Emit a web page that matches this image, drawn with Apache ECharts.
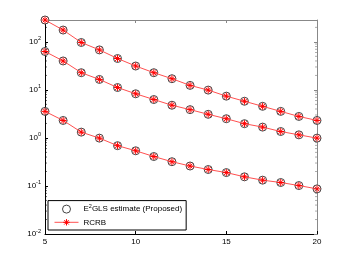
<!DOCTYPE html>
<html><head><meta charset="utf-8">
<script src="https://cdn.jsdelivr.net/npm/echarts@6/dist/echarts.min.js"></script>
<style>html,body{margin:0;padding:0;background:#fff}#c{width:350px;height:264px}</style>
</head><body><div id="c"></div>
<script>
const xValues = [5,6,7,8,9,10,11,12,13,14,15,16,17,18,19,20];
const seriesHigh = [285,176,97,68,45,31.4,22.8,17.1,12.4,9.9,7.4,5.8,4.55,3.57,2.8,2.31];
const seriesMid  = [63,40,22.8,16.5,11.2,8.3,6.3,4.79,3.88,3.1,2.51,1.98,1.68,1.36,1.16,0.99];
const seriesLow  = [3.57,2.31,1.32,0.99,0.69,0.54,0.41,0.32,0.26,0.22,0.19,0.155,0.132,0.118,0.102,0.087];
const xTicks = [5,10,15,20];
const yMin = 0.01, yMax = 285;
const nameEst = 'E2GLS estimate (Proposed)';
const nameCrb = 'RCRB';

const minorVals = [];
for (let e = -2; e <= 2; e++) for (let k = 2; k <= 9; k++) { const v = k * Math.pow(10, e); if (v < yMax) minorVals.push(v); }

const star = 'path://M0,-10L0,10M-10,0L10,0M-7,-7L7,7M-7,7L7,-7';
const font = 'Liberation Sans';

function pairs(arr){ return xValues.map((x,i)=>[x,arr[i]]); }

const series = [];
[seriesHigh, seriesMid, seriesLow].forEach(arr => {
  series.push({
    name: nameEst, type: 'scatter', data: pairs(arr), symbol: 'circle', symbolSize: 8,
    itemStyle: {color: '#fff', borderColor: '#444', borderWidth: 1, opacity: 1}, z: 2, silent: true
  });
  series.push({
    name: nameCrb, type: 'line', data: pairs(arr), symbol: star, symbolSize: 7,
    showSymbol: true, showAllSymbol: true,
    lineStyle: {color: '#ff5050', width: 1},
    itemStyle: {color: 'none', borderColor: '#ff0000', borderWidth: 1}, z: 3, silent: true
  });
});
series.push({
  type: 'custom', silent: true, z: 4,
  data: minorVals.map(v => [5, v]),
  renderItem: function(params, api){
    const cs = params.coordSys;
    const y = api.coord([5, api.value(1)])[1];
    return {type: 'group', children: [
      {type: 'line', shape: {x1: cs.x, y1: y, x2: cs.x + 2, y2: y}, style: {stroke: '#000', lineWidth: 0.6}},
      {type: 'line', shape: {x1: cs.x + cs.width - 2, y1: y, x2: cs.x + cs.width, y2: y}, style: {stroke: '#777', lineWidth: 0.6}}
    ]};
  }
});

const chart = echarts.init(document.getElementById('c'), null, {renderer: 'canvas'});
chart.setOption({
  animation: false,
  backgroundColor: '#fff',
  textStyle: {fontFamily: font},
  grid: {left: 45, right: 33, top: 20, bottom: 30},
  legend: {
    orient: 'vertical', left: 48, bottom: 34,
    data: [
      {name: nameEst, icon: 'circle', itemStyle: {color: '#fff', borderColor: '#444', borderWidth: 1}},
      {name: nameCrb, itemStyle: {color: 'none', borderColor: '#ff0000', borderWidth: 1}, lineStyle: {color: '#ff5050', width: 1}}
    ],
    itemWidth: 24, itemHeight: 8, itemGap: 3, padding: [3, 4, 2, 6],
    backgroundColor: '#fff', borderColor: '#000', borderWidth: 1, borderRadius: 0,
    formatter: function(n){ return n === nameEst ? '{a|E}{s|2}{a|GLS estimate (Proposed)}' : '{a|RCRB}'; },
    textStyle: {fontFamily: font, fontSize: 8, color: '#000',
      rich: {a: {fontFamily: font, fontSize: 8, color: '#000'}, s: {fontFamily: font, fontSize: 5.5, color: '#000', verticalAlign: 'top', padding: [0,0,5,0]}}}
  },
  xAxis: [{
    type: 'value', min: 5, max: 20, interval: 5,
    axisLine: {lineStyle: {color: '#000', width: 1}},
    axisTick: {inside: true, length: 3, lineStyle: {color: '#000'}},
    axisLabel: {fontFamily: font, fontSize: 8, color: '#000', margin: 4, formatter: v => xTicks.includes(v) ? String(v) : ''},
    splitLine: {show: false}
  }, {
    type: 'value', min: 5, max: 20, interval: 5, position: 'top',
    axisLine: {show: true, lineStyle: {color: '#888', width: 1}},
    axisTick: {inside: true, length: 3, lineStyle: {color: '#888'}},
    axisLabel: {show: false}, splitLine: {show: false}
  }],
  yAxis: [{
    type: 'log', logBase: 10, min: yMin, max: yMax,
    axisLine: {show: true, lineStyle: {color: '#000', width: 1}},
    axisTick: {show: true, inside: true, length: 3, lineStyle: {color: '#000'}},
    axisLabel: {showMaxLabel: false, fontFamily: font, fontSize: 8, color: '#000', margin: 4,
      formatter: function(v){ const e = Math.round(Math.log10(v)); if (Math.abs(Math.log10(v) - e) > 1e-6) return ''; return '{b|10}{e|' + e + '}'; },
      rich: {b: {fontFamily: font, fontSize: 8, color: '#000'}, e: {fontFamily: font, fontSize: 5.5, color: '#000', verticalAlign: 'top', padding: [0,0,6,0]}}},
    splitLine: {show: false}
  }, {
    type: 'log', logBase: 10, min: yMin, max: yMax, position: 'right',
    axisLine: {show: true, lineStyle: {color: '#888', width: 1}},
    axisTick: {show: true, inside: true, length: 3, lineStyle: {color: '#888'}},
    axisLabel: {show: false}, splitLine: {show: false}
  }],
  series: series
});
</script></body></html>
